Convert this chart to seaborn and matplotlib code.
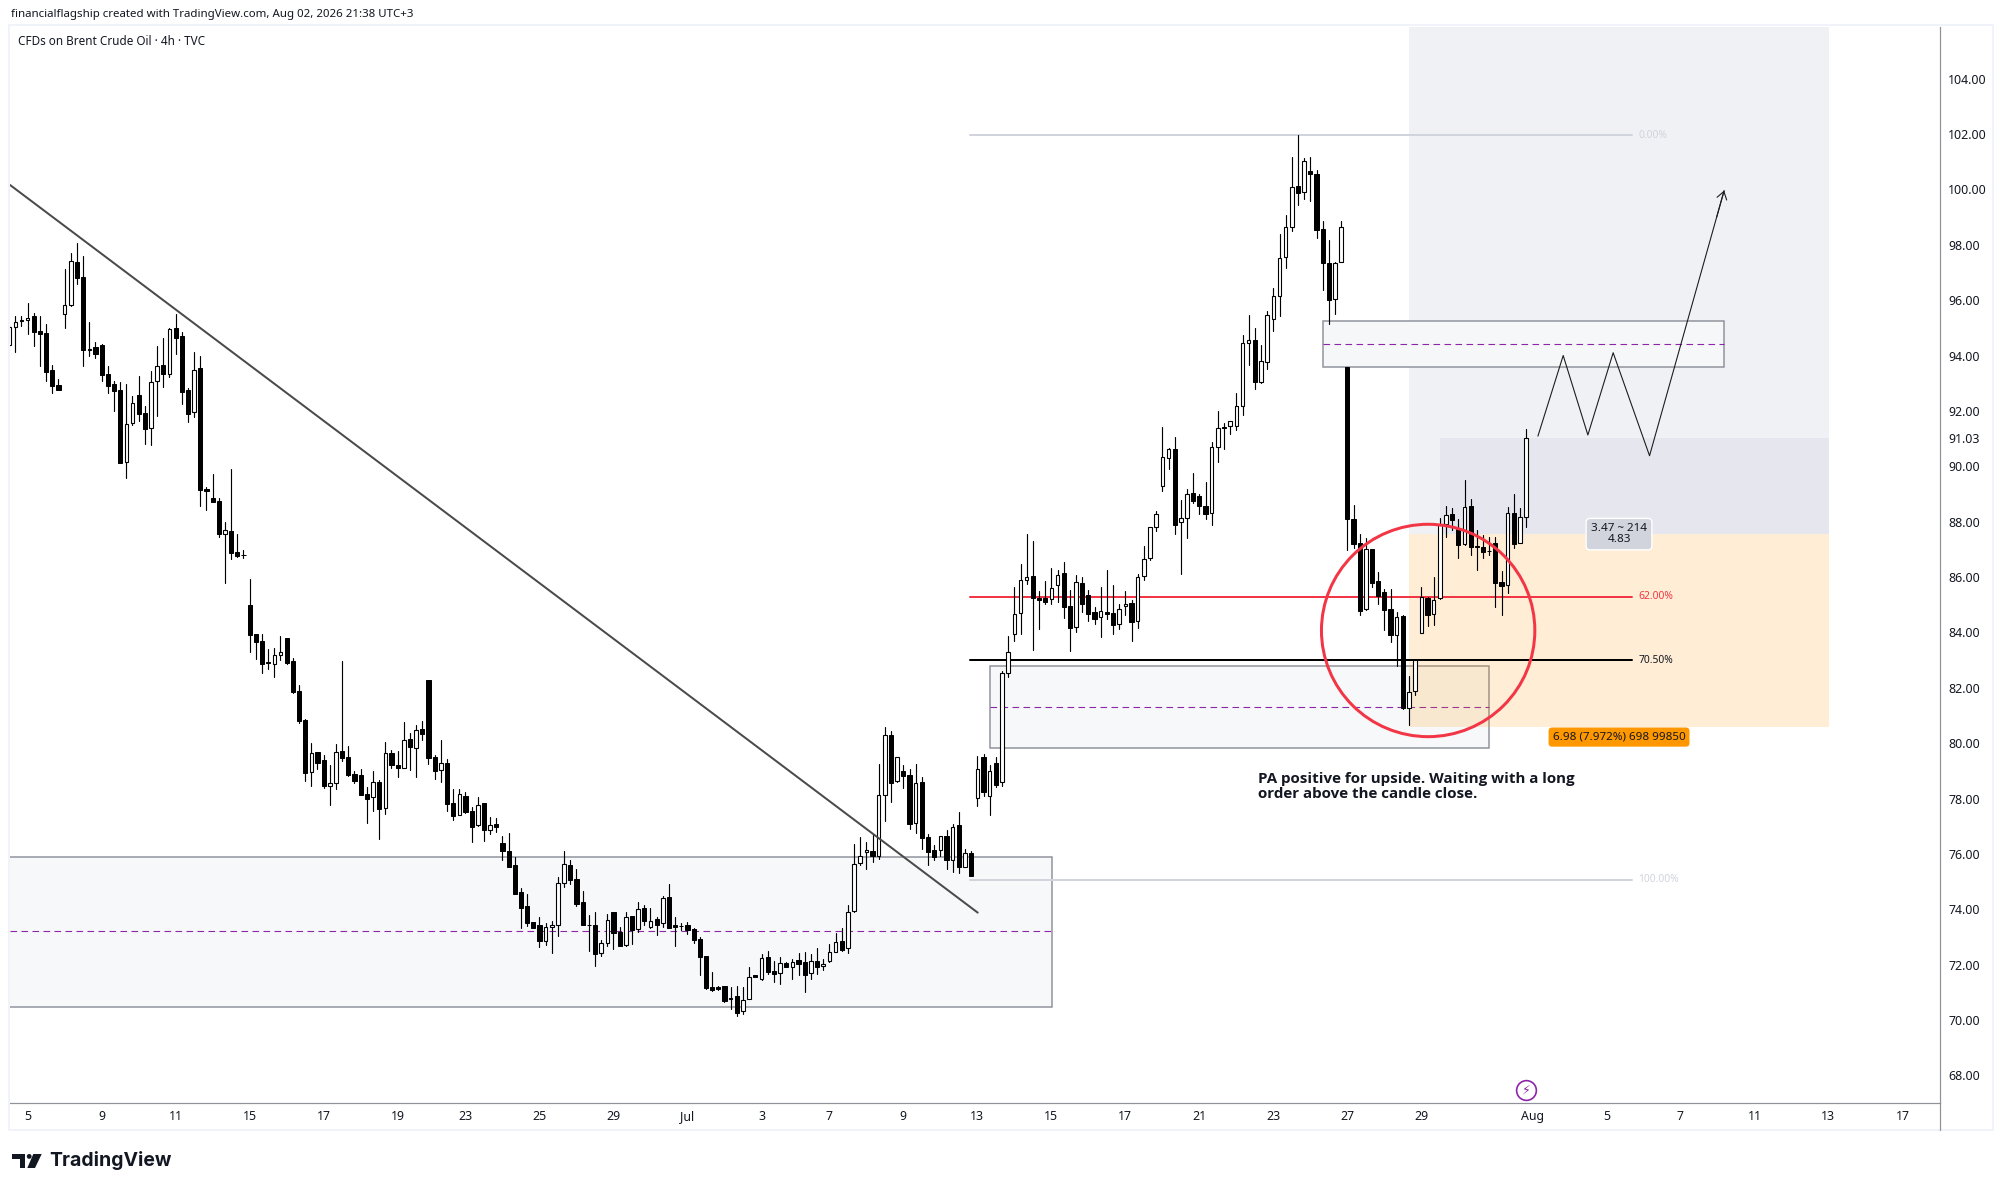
import numpy as np
import pandas as pd
import matplotlib
matplotlib.use("Agg")
import matplotlib.pyplot as plt
from matplotlib.patches import Rectangle, Ellipse, Polygon
import seaborn as sns

highs = [95.09,95.42,95.42,95.88,95.52,95.42,95.14,93.66,93.15,97.12,
97.72,98.06,97.58,95.20,94.47,94.40,93.61,93.09,93.03,92.97,
92.52,93.26,92.16,93.44,94.34,94.63,94.98,95.50,94.85,92.81,
94.12,94.00,89.26,89.72,88.84,87.97,89.90,87.55,86.96,85.92,
83.94,83.94,83.40,83.42,83.87,83.80,83.06,82.10,80.87,80.00,
79.67,79.57,79.21,79.97,82.97,79.90,78.99,79.07,78.42,78.99,
78.67,80.04,79.75,79.72,80.76,80.37,80.65,80.80,82.28,79.57,
80.11,79.43,78.34,78.34,78.23,77.68,78.05,77.83,77.33,77.29,
76.65,76.76,75.88,74.77,74.55,73.53,73.72,73.49,73.57,75.15,
76.11,75.77,75.46,74.66,73.78,73.90,72.89,73.82,73.89,73.35,
73.89,73.76,74.25,74.14,74.03,73.73,74.47,74.91,73.71,73.51,
73.53,73.31,72.99,72.31,71.74,71.23,71.23,71.19,71.23,71.19,
71.90,71.64,72.39,72.48,72.12,72.27,72.09,72.20,72.41,72.45,
72.39,72.59,72.19,72.75,73.13,73.31,74.14,76.35,76.61,76.43,
76.72,79.24,80.57,80.44,79.51,79.20,79.07,79.24,78.78,76.71,
76.31,76.64,76.85,77.09,77.50,76.17,76.11,79.52,79.60,79.20,
79.50,82.60,83.87,85.64,86.47,87.54,87.30,85.48,85.85,86.32,
86.24,86.53,85.52,86.06,86.00,85.52,84.92,85.64,86.25,85.71,
85.01,85.49,85.17,86.11,87.12,87.79,88.37,91.41,90.65,91.05,
88.77,89.18,89.75,88.99,89.42,90.86,91.99,91.55,91.65,92.63,
94.74,95.46,95.00,94.38,95.61,96.44,98.39,99.07,101.17,101.97,
101.13,101.17,100.70,98.85,98.17,97.37,98.85,93.60,88.60,87.55,
87.40,87.00,86.17,85.55,85.55,84.74,84.63,82.41,83.05,85.63,
85.29,85.99,88.13,88.56,88.48,88.11,89.49,88.80,87.70,87.52,
87.43,87.43,86.22,88.54,88.99,88.48,91.33]

body_tops = [95.04,95.22,95.30,95.36,95.41,94.87,94.81,93.47,92.92,95.83,
97.40,97.36,96.83,94.25,94.29,94.37,93.32,92.96,92.75,91.54,
92.30,92.56,91.91,93.05,93.63,93.64,94.94,94.98,94.69,92.74,
93.49,93.54,89.18,88.84,88.74,87.71,87.68,86.89,86.79,84.99,
83.94,83.69,82.92,83.17,83.31,83.80,82.95,81.87,80.84,79.63,
79.67,79.41,78.55,79.67,79.70,79.49,78.87,78.85,78.15,78.58,
78.60,79.63,79.63,79.20,80.10,80.14,80.46,80.50,82.28,79.49,
79.29,79.27,77.83,78.15,78.11,77.54,77.78,77.83,77.05,77.07,
76.38,76.09,75.59,74.61,74.11,73.53,73.45,73.35,73.42,74.94,
75.63,75.59,75.08,74.25,73.45,73.42,72.77,73.60,73.89,73.17,
73.71,73.75,74.00,74.03,73.59,73.64,74.40,74.43,73.42,73.41,
73.42,73.28,72.92,72.31,71.18,71.19,71.23,70.81,70.86,70.74,
71.57,71.62,72.25,72.27,71.76,72.07,72.07,72.11,72.16,72.09,
72.15,72.12,72.01,72.47,72.83,72.86,73.92,75.63,75.91,76.15,
76.09,78.14,80.28,80.28,79.49,78.98,78.84,78.57,78.59,76.60,
76.13,76.63,76.64,76.98,77.03,76.02,76.03,79.08,79.51,79.00,
79.30,82.52,83.28,84.65,85.88,85.99,86.02,85.26,85.24,85.62,
86.09,86.14,84.95,85.81,85.78,85.34,84.73,84.76,84.73,84.69,
84.83,85.04,85.05,85.99,86.64,87.79,88.26,90.32,90.61,90.61,
88.12,88.99,89.02,88.91,88.55,90.69,91.37,91.41,91.62,92.19,
94.44,94.55,94.56,93.79,95.45,96.14,97.51,98.63,100.07,100.11,
101.01,100.66,100.54,98.56,97.33,97.35,98.65,93.57,88.08,87.22,
87.00,87.00,85.84,85.45,84.83,84.57,84.58,81.86,82.99,85.29,
85.25,85.18,87.88,88.25,88.26,87.72,88.54,88.55,87.11,87.07,
86.95,87.22,85.81,88.32,88.30,88.18,91.01]

body_bottoms = [94.38,95.02,95.23,95.27,94.86,94.79,93.41,92.91,92.76,95.49,
95.83,96.81,94.21,94.19,94.06,93.31,92.91,92.73,90.13,90.14,
91.57,91.90,91.36,91.37,93.07,93.34,93.35,94.64,92.69,91.90,
91.95,89.15,89.12,88.72,87.56,87.56,86.88,86.76,86.78,83.92,
83.66,82.87,82.91,82.87,83.19,82.89,81.85,80.81,78.92,78.97,
79.29,78.45,78.46,78.57,79.47,78.85,78.63,78.13,77.98,78.04,
77.62,77.67,79.21,79.11,79.11,79.86,79.84,80.34,79.46,79.01,
79.04,77.81,77.38,77.42,77.52,76.98,77.03,76.87,76.88,76.98,
76.12,75.54,74.57,74.06,73.52,73.34,72.87,72.84,73.35,73.42,
74.94,75.07,74.20,73.44,73.44,72.40,72.43,72.80,73.16,72.69,
72.70,73.27,73.30,73.57,73.37,73.44,73.49,73.34,73.37,73.40,
73.27,72.90,72.29,71.16,71.10,71.12,70.70,70.75,70.27,70.32,
70.77,71.56,71.48,71.75,71.66,71.69,71.93,71.90,72.04,71.64,
71.69,71.93,71.94,72.12,72.47,72.54,72.59,73.95,75.66,76.08,
75.94,75.94,78.12,78.57,78.62,78.83,77.09,77.10,76.59,76.08,
75.90,76.13,75.77,75.77,75.51,75.52,75.22,78.01,78.22,78.10,
78.50,78.59,82.55,83.96,84.69,85.88,85.25,85.18,85.11,85.19,
85.70,84.93,84.17,84.20,85.04,84.68,84.50,84.55,84.68,84.28,
84.29,84.94,84.38,84.40,86.02,86.67,87.79,89.28,90.29,87.89,
87.97,88.12,88.76,88.58,88.29,88.33,90.69,91.39,91.44,91.47,
92.19,94.44,93.03,93.05,93.78,95.33,96.16,97.55,98.65,99.88,
99.89,100.57,98.55,97.35,96.02,96.05,97.37,88.08,87.20,84.79,
84.83,85.80,85.33,84.82,83.92,83.89,81.26,81.26,81.87,83.97,
84.64,84.65,85.23,87.90,88.07,87.17,87.20,87.07,87.07,86.91,
86.93,85.80,85.69,85.70,87.20,87.22,88.15]

lows = [94.34,94.14,95.08,94.77,94.35,93.63,93.09,92.66,92.76,95.00,
95.80,96.59,93.63,93.99,93.92,93.09,92.66,92.01,90.13,89.59,
91.50,91.65,90.81,90.78,91.83,92.86,93.23,94.06,92.26,91.61,
91.79,88.58,88.43,88.72,87.46,85.79,86.66,86.73,86.69,83.29,
83.04,82.53,82.69,82.40,82.99,82.86,81.81,80.74,78.63,78.46,
79.07,78.38,77.77,78.34,79.35,78.82,78.57,78.13,77.13,77.55,
76.55,77.45,79.11,78.79,79.11,79.03,78.79,80.11,79.25,78.72,
78.61,77.56,77.22,77.41,77.48,76.44,77.02,76.48,76.73,76.80,
75.79,75.54,74.57,73.34,73.41,73.34,72.65,72.72,72.43,73.05,
74.82,74.93,74.13,73.44,72.51,71.96,72.33,72.69,72.58,72.69,
72.69,72.76,73.19,73.43,73.34,73.08,73.36,73.34,72.69,73.27,
73.10,72.80,71.64,71.13,71.06,71.10,70.66,70.41,70.16,70.21,
70.75,71.56,71.46,71.68,71.38,71.32,71.93,71.48,71.63,71.01,
71.48,71.66,71.81,72.09,72.45,72.51,72.43,73.92,75.60,75.46,
75.72,75.83,77.19,77.88,78.61,78.38,76.90,76.77,76.19,75.61,
75.79,75.91,75.46,75.36,75.31,75.51,75.22,77.73,78.08,77.40,
78.40,78.45,82.40,83.69,83.94,85.74,83.37,84.13,85.02,85.02,
85.11,84.52,83.34,84.02,84.74,84.42,84.32,83.84,84.48,83.94,
84.12,84.63,83.70,84.16,85.90,86.62,87.67,89.12,89.90,87.57,
86.12,87.42,88.69,88.29,88.11,87.89,90.17,90.64,91.18,91.31,
91.85,93.67,92.79,92.99,93.53,94.90,95.44,97.17,98.51,99.45,
99.67,99.59,98.25,96.38,95.12,95.51,97.37,86.98,87.05,84.63,
84.82,85.65,85.04,84.10,83.66,82.79,81.22,80.67,81.75,83.97,
84.24,84.28,85.21,87.46,87.71,86.70,87.17,86.79,86.25,86.67,
86.81,84.93,84.64,85.43,87.06,87.22,87.82]

directions = ("UUUUDDDDDU" "UDDUDDDDDU" "UDDUUDUDDD" "UDDDDUDDDD" "DDDUUDDDDU"
              "DDUUDDDDDU" "DUDDUDUDDD" "UDDUDDUDUD" "DDDDDDDUUU" "UDDDDDUUDD"
              "UDUDUDUDDD" "DDDDDDDUDU" "UDUDDUDUDD" "UDUUUDUUUU" "DUUDUDDUDD"
              "DUDUDUDUDU" "DUUUUUDDDU" "UDDUDDDUDD" "UUDUUUUUUD" "UUDDDUUDUU"
              "UUDUUUUUUD" "UDDDDUUDDD" "UDDDDUDUUU" "DUUUDDUDDD" "DDDUDUU")

date_ticks = [3,15,27,39,51,63,74,86,98,110,122,133,145,157,169,181,193,205,217,229,247,259,271,283,295,307]
date_labels = ["5","9","11","15","17","19","23","25","29","Jul","3","7","9","13","15","17","21","23","27","29","Aug","5","7","11","13","17"]
price_ticks = [68,70,72,74,76,78,80,82,84,86,88,90,91.03,92,94,96,98,100,102,104]

fib_levels = [101.96, 85.28, 83.00, 75.06]
fib_labels = ["0.00%", "62.00%", "70.50%", "100.00%"]
trend_bars = [0.14, 157.06]
trend_prices = [100.16, 73.88]
zig_bars = [247.9, 252.0, 256.0, 260.1, 266.0, 278.1]
zig_prices = [91.09, 94.00, 91.13, 94.10, 90.38, 99.96]

W, H = 2004, 1191
FONT = "Noto Sans"
sns.set_theme(style="white")
plt.rcParams["font.family"] = [FONT, "DejaVu Sans"]

fig = plt.figure(figsize=(W / 100, H / 100), dpi=100, facecolor="white")
ax = fig.add_axes([10 / W, (H - 1103) / H, 1930 / W, 1076 / H])
ax.set_xlim(0.14, 313.1)
ax.set_ylim(67.005, 105.864)

PX = 0.72
BOX_EDGE = "#8f929b"
BOX_FILL = "#f7f8fa"
PURPLE = "#8e24aa"
RED = "#f23645"
GREY = "#d1d4dc"
TINT = (100 / 255, 108 / 255, 150 / 255)


def line(xs, ys, color, lw_px, z, ls="-"):
    sns.lineplot(x=xs, y=ys, sort=False, estimator=None, color=color,
                 linewidth=lw_px * PX, linestyle=ls, zorder=z, ax=ax, legend=False)


def box(x0, x1, y0, y1, mid, z=1.0, fill=BOX_FILL):
    ax.add_patch(Rectangle((x0, y0), x1 - x0, y1 - y0, facecolor=fill,
                           edgecolor=BOX_EDGE, linewidth=1.5 * PX, zorder=z))
    line([x0, x1], [mid, mid], PURPLE, 1.1, z + 0.05, ls=(0, (6, 4)))


# zones
box(-5, 169.1, 70.46, 75.90, 73.20)
box(159.1, 240.0, 79.81, 82.77, 81.30)
box(213.05, 278.1, 93.57, 95.24, 94.40, z=1.5, fill="#f6f7f9")

# long position
ax.add_patch(Rectangle((227.0, 87.57), 68.1, 30, facecolor=TINT, alpha=0.095, edgecolor="none", zorder=1.3))
ax.add_patch(Rectangle((232.0, 87.57), 63.1, 91.03 - 87.57, facecolor=TINT, alpha=0.07, edgecolor="none", zorder=1.35))
ax.add_patch(Rectangle((227.0, 80.60), 68.1, 87.57 - 80.60, facecolor="#ff9800", alpha=0.165,
                       edgecolor="none", zorder=1.3))

# fib levels
for lev, lab, col, tcol in zip(fib_levels, fib_labels, [GREY, RED, "#000000", GREY],
                               [GREY, RED, "#131722", GREY]):
    line([155.8, 263.1], [lev, lev], col, 2, 3)
    ax.text(264.2, lev, lab, color=tcol, fontsize=7.4, va="center", ha="left", zorder=3)

# candles
bars = np.arange(len(highs))
wicks = pd.DataFrame({"bar": np.repeat(bars, 2),
                      "price": np.column_stack([lows, highs]).ravel()})
sns.lineplot(data=wicks, x="bar", y="price", units="bar", estimator=None, sort=False,
             color="black", linewidth=1.15 * PX, zorder=4, ax=ax, legend=False)
up = np.array(list(directions)) == "U"
tops = np.array(body_tops)
bottoms = np.array(body_bottoms)
ax.bar(bars[~up], tops[~up] - bottoms[~up], bottom=bottoms[~up], width=0.66,
       color="black", edgecolor="black", linewidth=1.0 * PX, zorder=5)
ax.bar(bars[up], tops[up] - bottoms[up], bottom=bottoms[up], width=0.56,
       color="white", edgecolor="black", linewidth=1.1 * PX, zorder=5)

# trend line and projected path
line(trend_bars, trend_prices, "#4a4a4a", 2.0, 6)
line(zig_bars, zig_prices, "#1c1c1c", 1.1, 7)
ax.annotate("", xy=(zig_bars[-1], zig_prices[-1]),
            xytext=(zig_bars[-2] + 0.9 * (zig_bars[-1] - zig_bars[-2]),
                    zig_prices[-2] + 0.9 * (zig_prices[-1] - zig_prices[-2])),
            arrowprops=dict(arrowstyle="->,head_length=0.45,head_width=0.3", color="#1c1c1c",
                            lw=1.1 * PX, shrinkA=0, shrinkB=0), zorder=7)

# circle
ax.add_patch(Ellipse((230.1, 84.07), 34.6, 7.67, facecolor="none", edgecolor=RED,
                     linewidth=3.0 * PX, zorder=8))

# position labels
ax.text(261.05, 87.55, "3.47 ~ 214\n4.83", fontsize=8.4, color="#131722", ha="center", va="center",
        linespacing=0.95, zorder=9,
        bbox=dict(boxstyle="round,pad=0.42,rounding_size=0.35", facecolor=GREY, edgecolor="white", linewidth=1))
ax.text(261.05, 80.22, "6.98 (7.972%) 698 99850", fontsize=8.4, color="#131722", ha="center", va="center",
        zorder=9, bbox=dict(boxstyle="round,pad=0.35,rounding_size=0.3", facecolor="#ff9800", edgecolor="none"))
ax.text(202.5, 78.42, "PA positive for upside. Waiting with a long\norder above the candle close.",
        family="Open Sans", fontsize=10.9, fontweight="bold", color="#131722", ha="left", va="center",
        linespacing=1.08, zorder=9)

# dividend / event icon
ax.plot([246], [67.47], marker="o", ms=14.2, mfc="white", mec=PURPLE, mew=1.2, zorder=9, clip_on=False)
ax.text(246, 67.47, "\u26a1", family="DejaVu Sans", fontsize=9, color=PURPLE, ha="center", va="center", zorder=10)

# axes furniture
ax.set_xlabel("")
ax.set_ylabel("")
ax.yaxis.tick_right()
ax.set_yticks(price_ticks)
ax.set_yticklabels([f"{p:.2f}" for p in price_ticks], fontsize=8.9, color="#131722")
ax.set_xticks(date_ticks)
ax.set_xticklabels(date_labels, fontsize=8.9, color="#131722")
for lab in ax.get_xticklabels():
    if lab.get_text() in ("Jul", "Aug"):
        lab.set_fontweight("bold")
ax.tick_params(axis="both", length=0)
ax.tick_params(axis="y", pad=6)
ax.tick_params(axis="x", pad=5)
ax.grid(False)
for side in ("top", "left"):
    ax.spines[side].set_visible(False)
for side in ("right", "bottom"):
    ax.spines[side].set_color("#8f929b")
    ax.spines[side].set_linewidth(1.2 * PX)


def fx(p):
    return p / W


def fy(p):
    return 1 - p / H


# outer frame and scale extension
fig.add_artist(Rectangle((fx(9), fy(1130)), fx(1984), 1105 / H, transform=fig.transFigure,
                         facecolor="none", edgecolor="#f0f3fa", linewidth=2 * PX, zorder=0.5))
fig.add_artist(plt.Line2D([fx(1940), fx(1940)], [fy(1103), fy(1130)], transform=fig.transFigure,
                          color="#8f929b", linewidth=1.2 * PX))

# titles
fig.text(fx(11), fy(14.5), "financialflagship created with TradingView.com, Aug 02, 2026 21:38 UTC+3",
         fontsize=8.27, color="#131722", ha="left", va="center")
fig.text(fx(18), fy(41.5), "CFDs on Brent Crude Oil \u00b7 4h \u00b7 TVC",
         fontsize=8.44, color="#131722", ha="left", va="center")

# TradingView logo
for pts in ([(12, 1154), (25.3, 1154), (25.3, 1168), (20, 1168), (20, 1158.7), (12, 1158.7)],
            [(33.3, 1154), (41.7, 1154), (35, 1168), (27.3, 1168)]):
    fig.add_artist(Polygon([(fx(a), fy(b)) for a, b in pts], closed=True, transform=fig.transFigure,
                           facecolor="#131722", edgecolor="none"))
fig.add_artist(Ellipse((fx(29.2), fy(1156.4)), 4.8 / W, 4.8 / H, transform=fig.transFigure,
                       facecolor="#131722", edgecolor="none"))
fig.text(fx(49.5), fy(1161), "TradingView", family="Inter", fontsize=14.0, fontweight="bold",
         color="#131722", ha="left", va="center")

fig.savefig("out.png", dpi=100, facecolor="white")
